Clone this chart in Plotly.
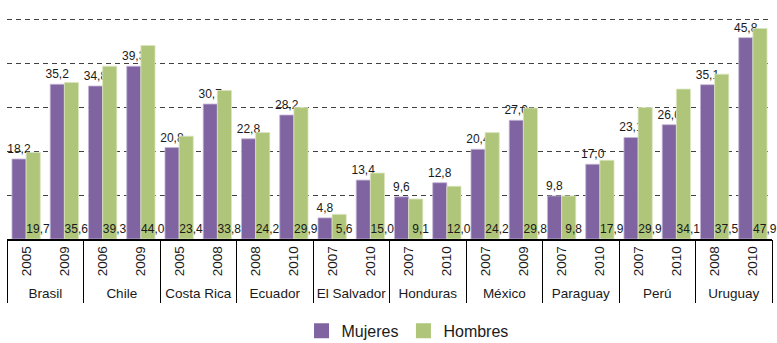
import plotly.graph_objects as go

# Country / survey-year categories
paises = ["Brasil", "Brasil", "Chile", "Chile", "Costa Rica", "Costa Rica",
          "Ecuador", "Ecuador", "El Salvador", "El Salvador", "Honduras", "Honduras",
          "México", "México", "Paraguay", "Paraguay", "Perú", "Perú",
          "Uruguay", "Uruguay"]
anios = ["2005", "2009", "2006", "2009", "2005", "2008", "2008", "2010", "2007", "2010",
         "2007", "2010", "2007", "2009", "2007", "2010", "2007", "2010", "2008", "2010"]

# Series values (%)
mujeres = [18.2, 35.2, 34.8, 39.3, 20.8, 30.7, 22.8, 28.2, 4.8, 13.4,
           9.6, 12.8, 20.4, 27.0, 9.8, 17.0, 23.1, 26.0, 35.1, 45.8]
hombres = [19.7, 35.6, 39.3, 44.0, 23.4, 33.8, 24.2, 29.9, 5.6, 15.0,
           9.1, 12.0, 24.2, 29.8, 9.8, 17.9, 29.9, 34.1, 37.5, 47.9]

MORADO = "#8064a2"
VERDE = "#afc67a"
FUENTE = "Liberation Sans, Arial, sans-serif"
TINTA = "#1a1a1a"


def coma(v):
    return f"{v:.1f}".replace(".", ",")


# One slot per country-year; countries grouped in order of appearance
pos = list(range(len(anios)))
grupos = []
for i, p in enumerate(paises):
    if not grupos or grupos[-1][0] != p:
        grupos.append([p, []])
    grupos[-1][1].append(i)
centros = [sum(idx) / len(idx) for _, idx in grupos]
nombres = [p for p, _ in grupos]
limites = [idx[0] - 0.5 for _, idx in grupos] + [grupos[-1][1][-1] + 0.5]
rango = [pos[0] - 0.5, pos[-1] + 0.5]

fig = go.Figure()

fig.add_trace(go.Bar(
    x=pos, y=mujeres, name="Mujeres", showlegend=False,
    marker=dict(color=MORADO, line=dict(color="#c4b6d6", width=0.8)),
    text=[coma(v) for v in mujeres], textposition="outside",
    textangle=0, constraintext="none", cliponaxis=False,
    textfont=dict(family=FUENTE, size=12, color=TINTA),
))

# Men's values sit at the foot of the green bar, nudged right with no-break spaces
fig.add_trace(go.Bar(
    x=pos, y=hombres, name="Hombres", showlegend=False,
    marker=dict(color=VERDE, line=dict(color="#d9e5bf", width=0.8)),
    text=["\u00a0\u00a0\u00a0" + coma(v) for v in hombres], textposition="inside",
    insidetextanchor="start", textangle=0, constraintext="none", cliponaxis=False,
    insidetextfont=dict(family=FUENTE, size=12, color=TINTA),
))

# Legend entries with larger square swatches; each one also anchors a
# helper x-axis (country labels / group dividers) so that axis gets drawn
for nombre, color, eje in (("Mujeres", MORADO, "x2"), ("Hombres", VERDE, "x3")):
    fig.add_trace(go.Scatter(
        x=[None], y=[None], mode="markers", name=nombre, hoverinfo="skip",
        xaxis=eje, yaxis="y",
        marker=dict(symbol="square", size=15, color=color),
    ))

fig.update_layout(
    width=777, height=343,
    margin=dict(l=7, r=5, t=17, b=104, autoexpand=False),
    paper_bgcolor="white", plot_bgcolor="white",
    barmode="group", bargap=0.26, bargroupgap=0,
    font=dict(family=FUENTE, color=TINTA),
    showlegend=True,
    legend=dict(orientation="h", x=0.385, xanchor="left", y=-0.414, yanchor="middle",
                font=dict(family=FUENTE, size=16, color=TINTA),
                itemwidth=30, bgcolor="rgba(0,0,0,0)"),
    # year labels
    xaxis=dict(
        range=rango, tickmode="array", tickvals=pos, ticktext=anios,
        tickangle=-90, ticks="", showline=True, linecolor="black", linewidth=1.5,
        tickfont=dict(family=FUENTE, size=13.5, color=TINTA),
        showgrid=False, zeroline=False,
    ),
    # country labels below the years
    xaxis2=dict(
        overlaying="x", anchor="y", side="bottom", range=rango,
        tickmode="array", tickvals=centros, ticktext=nombres, ticks="",
        ticklabelstandoff=44, tickangle=0,
        tickfont=dict(family=FUENTE, size=13.5, color=TINTA),
        showgrid=False, zeroline=False, showline=False,
    ),
    # group dividers
    xaxis3=dict(
        overlaying="x", anchor="y", side="bottom", range=rango,
        tickmode="array", tickvals=limites, ticks="outside", ticklen=63,
        tickwidth=1, tickcolor="black", showticklabels=False,
        showgrid=False, zeroline=False, showline=False,
    ),
    yaxis=dict(
        range=[0, 50.5], dtick=10, tick0=0,
        showgrid=True, gridcolor="#404040", gridwidth=1, griddash="5px,4px",
        showticklabels=False, ticks="", zeroline=False, showline=False,
    ),
)

fig.write_html("out.html")
